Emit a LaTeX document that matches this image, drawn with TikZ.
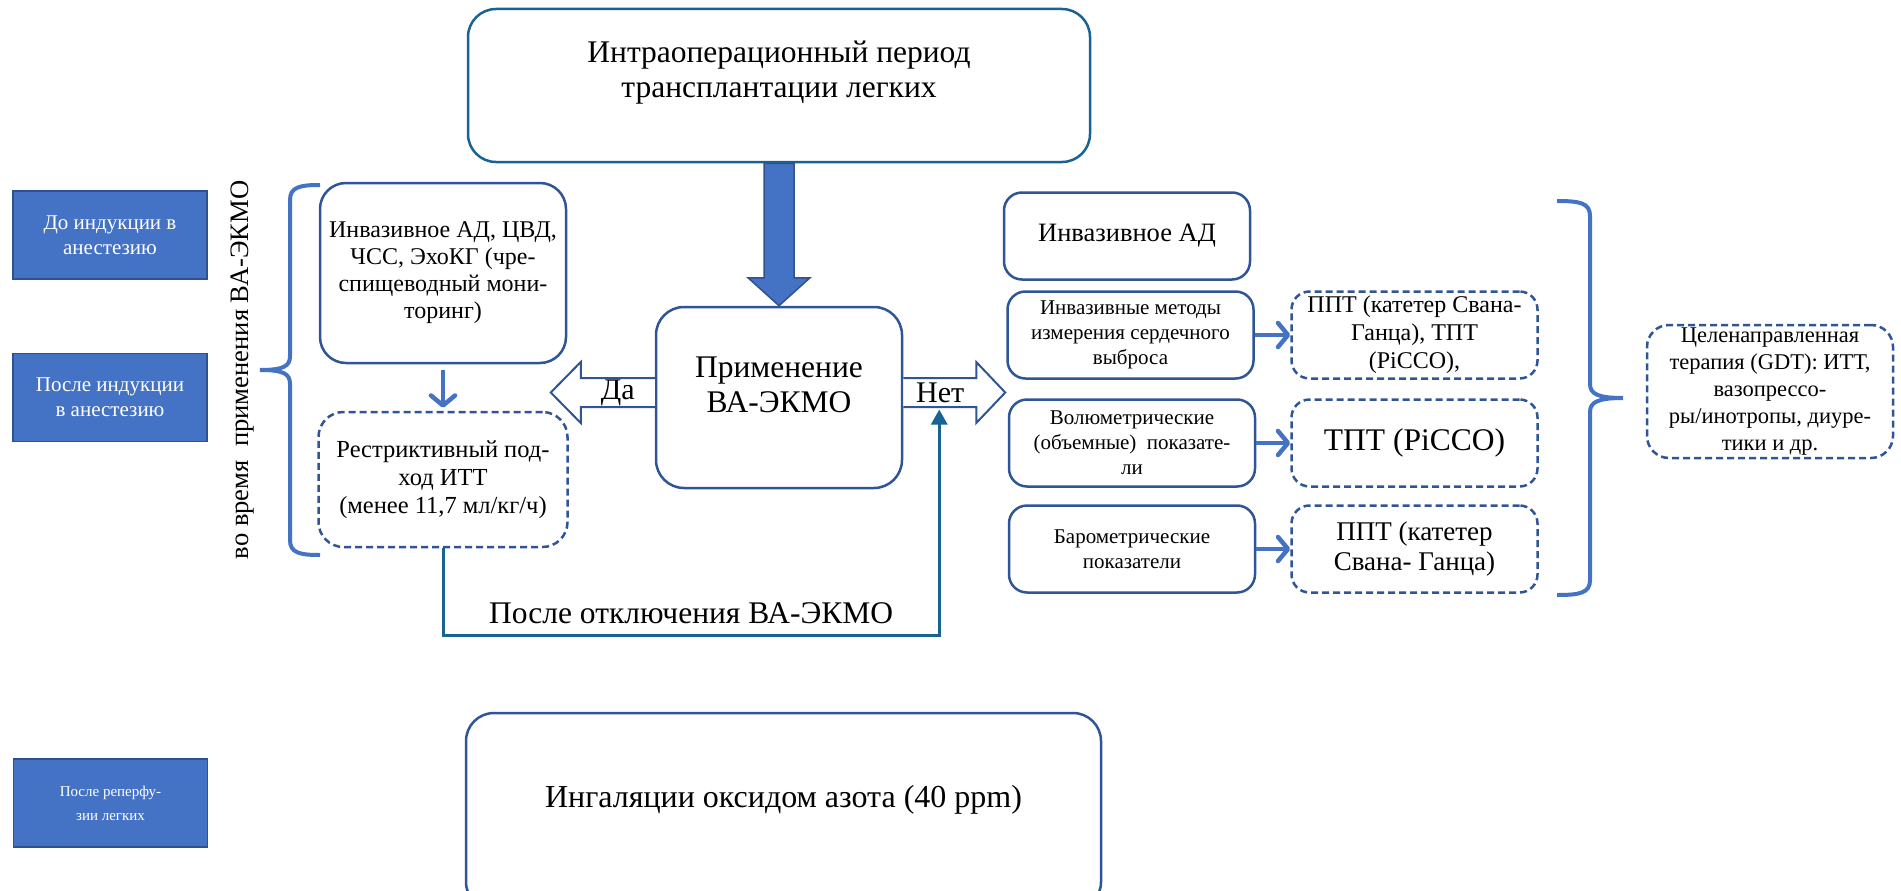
\documentclass[tikz,border=0pt]{standalone}
\usepackage{fontspec}
\setmainfont{Liberation Serif}
\usepackage{tikz}
\usetikzlibrary{arrows.meta, positioning, calc}
\definecolor{boxblue}{RGB}{47, 85, 151}
\definecolor{tealblue}{RGB}{25, 98, 148}
\definecolor{accblue}{RGB}{68, 114, 196}
\definecolor{accdark}{RGB}{47, 82, 143}
\newcommand{\fsz}[2]{\fontsize{#1}{#2}\selectfont}

\begin{document}
\begin{tikzpicture}[x=1pt, y=-1pt,
    phase/.style={rectangle, fill=accblue, draw=accdark, line width=1.5pt, text=white, minimum width=194pt, minimum height=88pt, align=center, font=\fsz{21}{25}},
    bigbox/.style={rectangle, rounded corners=28pt, draw=boxblue, line width=2.5pt, align=center, font=\fsz{31.5}{35}},
    midbox/.style={rectangle, rounded corners=18pt, draw=boxblue, line width=2.5pt, align=center, minimum width=246pt, minimum height=87pt, inner sep=2pt},
    dashbox/.style={midbox, dash pattern=on 7pt off 4pt},
    yesno/.style={font=\fsz{30}{34}, inner sep=0pt},
    hollow/.style={draw=boxblue, fill=white, line width=2pt, line join=miter},
    fatarr/.style={fill=accblue, draw=accdark, line width=1.5pt},
    openarr/.style={-{Straight Barb[length=10pt, width=24pt, round]}, accblue, line width=4.5pt},
    backarr/.style={-{Triangle[length=15pt, width=16pt]}, tealblue, line width=3pt},
    curly/.style={accblue, line width=4pt}
]
\useasboundingbox (0,0) rectangle (1901,891);
\clip (0,0) rectangle (1901,891);

% ── Header ──
\node[bigbox, draw=tealblue, minimum width=622pt, minimum height=153pt] (period) at (779,85.5) {Интраоперационный период\\трансплантации легких\\[-3pt]\mbox{}};

% ── Phases (left column) ──
\node[phase] (before) at (110,235) {До индукции в\\анестезию};
\node[phase] (after) at (110,397.5) {После индукции\\в анестезию};
\node[phase, font=\fsz{15}{24}] (reperf) at (110.5,803) {После реперфу-\\зии легких};

% ── ECMO decision ──
\node[bigbox, minimum width=246pt, minimum height=181pt] (ecmo) at (779,397.5) {Применение\\ВА-ЭКМО\\[-9pt]\mbox{}};

% Left branch
\node[bigbox, rounded corners=26pt, font=\fsz{24}{27}, minimum width=246pt, minimum height=180pt] (monleft) at (443,273) {Инвазивное АД, ЦВД,\\ЧСС, ЭхоКГ (чре-\\спищеводный мони-\\торинг)};
\node[bigbox, rounded corners=25pt, dash pattern=on 7pt off 4pt, font=\fsz{24.5}{28}, minimum width=249pt, minimum height=135pt] (restr) at (443,479.5) {Рестриктивный под-\\ход ИТТ\\(менее 11,7 мл/кг/ч)};
\node[rotate=90, font=\fsz{26.6}{31}] (during) at (243,370) {во время\ \ применения ВА-ЭКМО};

% Right branch
\node[midbox, font=\fsz{26.5}{30}] (invad) at (1127,236) {Инвазивное АД};
\node[midbox, font=\fsz{21}{25}] (output) at (1130.5,335) {Инвазивные методы\\измерения сердечного\\выброса};
\node[midbox, font=\fsz{21}{25}] (volume) at (1132,443) {Волюметрические\\(объемные)\ \ показате-\\ли};
\node[midbox, font=\fsz{21}{25}] (baro) at (1132,549) {Барометрические\\показатели};
\node[dashbox, font=\fsz{24}{28}] (ppt) at (1414.5,335) {ППТ (катетер Свана-\\Ганца), ТПТ\\(PiCCO),};
\node[dashbox, font=\fsz{31.5}{35}] (tpt) at (1414.5,443) {ТПТ (PiCCO)};
\node[dashbox, font=\fsz{27}{30}] (pptb) at (1414.5,549) {ППТ (катетер\\Свана- Ганца)};
\node[dashbox, rounded corners=22pt, font=\fsz{22.5}{27}, minimum height=133pt, inner sep=0pt] (gdt) at (1770,391.5) {Целенаправленная\\терапия (GDT): ИТТ,\\вазопрессо-\\ры/инотропы, диуре-\\тики и др.};

% ── After reperfusion ──
\node[bigbox, font=\fsz{32}{35}, minimum width=635pt, minimum height=197pt] (nitric) at (783.5,811.5) {Ингаляции оксидом азота (40 ppm)\\[-4pt]\mbox{}};

% Fat arrow down
\draw[fatarr] ($(period.south)+(-15,0)$) -- ($(ecmo.north)+(-15,-28)$) -- ++(-16,0) -- (ecmo.north) -- ($(ecmo.north)+(31,-28)$) -- ++(-16,0) -- ($(period.south)+(15,0)$) -- cycle;

% Yes / No block arrows
\draw[hollow] ($(ecmo.west)+(0,-19.5)$) -- ++(-74,0) -- ++(0,-16) -- ++(-30,30.5) -- ++(30,30.5) -- ++(0,-16) -- ++(74,0);
\node[yesno] (yes) at ($(ecmo.west)+(-37,-5)$) {Да};
\draw[hollow] ($(ecmo.east)+(0,-19.5)$) -- ++(73,0) -- ++(0,-16) -- ++(29,30.5) -- ++(-29,30.5) -- ++(0,-16) -- ++(-73,0);
\node[yesno] (no) at ($(ecmo.east)+(37,-5)$) {Нет};

% Small arrows
\draw[openarr, shorten <=6pt, shorten >=3pt] (monleft) -- (restr);
\draw[openarr] (output) -- (ppt);
\draw[openarr] (volume) -- (tpt);
\draw[openarr] (baro) -- (pptb);

% Back after ECMO off
\coordinate (nofoot) at ($(ecmo.east)+(36,12)$);
\draw[backarr] (restr.south) -- ++(0,87) -| node[pos=0.25, above=8pt, font=\fsz{31.5}{35}, inner sep=2pt, text=black] (offtext) {После отключения ВА-ЭКМО} (nofoot);

% Braces
\draw[curly] (320,185) .. controls (300,185) and (290,187) .. (290,200) -- (290,356) .. controls (290,366) and (284,370) .. (260,370) .. controls (284,370) and (290,374) .. (290,384) -- (290,540) .. controls (290,553) and (300,555) .. (320,555);
\draw[curly] (1557,201) .. controls (1580,201) and (1590,203) .. (1590,216) -- (1590,384) .. controls (1590,394) and (1598,398) .. (1623,398) .. controls (1598,398) and (1590,402) .. (1590,412) -- (1590,580) .. controls (1590,593) and (1580,595) .. (1557,595);

\end{tikzpicture}
\end{document}
